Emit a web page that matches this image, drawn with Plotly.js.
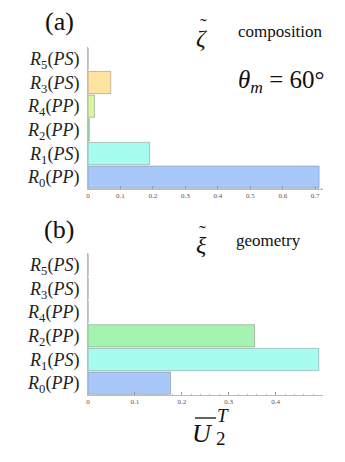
<!DOCTYPE html>
<html><head><meta charset="utf-8">
<script src="https://cdn.plot.ly/plotly-3.0.1.min.js"></script>
<style>html,body{margin:0;padding:0;background:#fff}#plot{width:345px;height:462px}</style>
</head><body><div id="plot"></div>
<script>
// categories bottom -> top
const categories = ["R0(PP)", "R1(PS)", "R2(PP)", "R4(PP)", "R3(PS)", "R5(PS)"];
const categoryLabels = [
  "<i>R</i><sub>0</sub>(<i>PP</i>)",
  "<i>R</i><sub>1</sub>(<i>PS</i>)",
  "<i>R</i><sub>2</sub>(<i>PP</i>)",
  "<i>R</i><sub>4</sub>(<i>PP</i>)",
  "<i>R</i><sub>3</sub>(<i>PS</i>)",
  "<i>R</i><sub>5</sub>(<i>PS</i>)"
];
const compositionValues = [0.712, 0.19, 0.004, 0.02, 0.07, 0.0];
const geometryValues = [0.176, 0.492, 0.355, 0.0, 0.0, 0.0];
const barColors = ["#a8c8fa", "#a6fcef", "#a5f3b1", "#d8f6a2", "#fee3a1", "#e8e8e8"];
const xTicksA = [0, 0.1, 0.2, 0.3, 0.4, 0.5, 0.6, 0.7];
const xTicksB = [0, 0.1, 0.2, 0.3, 0.4];

const L = 88, R = 22, T = 47, B = 67, W = 345, H = 462;
const pw = W - L - R, ph = H - T - B;
const xp = px => (px - L) / pw;
const yp = py => (H - B - py) / ph;

const serif = "'Liberation Serif', 'DejaVu Serif', serif";
const barLine = {color: "rgba(120,120,120,0.45)", width: 1};

const traces = [
  {type: "bar", orientation: "h", x: compositionValues, y: categories,
   xaxis: "x", yaxis: "y", marker: {color: barColors, line: barLine}, hoverinfo: "none"},
  {type: "bar", orientation: "h", x: geometryValues, y: categories,
   xaxis: "x2", yaxis: "y2", marker: {color: barColors, line: barLine}, hoverinfo: "none"}
];

function xax(range, ticks, anchor) {
  return {
    range: range, anchor: anchor, domain: [0, 1],
    tickmode: "array", tickvals: ticks, ticktext: ticks.map(v => v === 0 ? "0" : String(v)),
    ticks: "inside", ticklen: 3, tickcolor: "#999", tickwidth: 1,
    minor: {dtick: 0.02, ticks: "inside", ticklen: 1.5, tickcolor: "#bbb", showgrid: false},
    showline: true, linecolor: "#bbb", linewidth: 1,
    showgrid: false, zeroline: false,
    tickfont: {family: serif, size: 7, color: "#555"}
  };
}
function yax(domain, anchor) {
  return {
    domain: domain, anchor: anchor, type: "category",
    categoryorder: "array", categoryarray: categories,
    tickmode: "array", tickvals: categories, ticktext: categoryLabels,
    ticks: "", showline: true, linecolor: "#bbb", linewidth: 1,
    showgrid: false, zeroline: false, ticklabelstandoff: 4,
    tickfont: {family: serif, size: 18, color: "#222"}
  };
}

const ann = (text, px, py, size, extra) => Object.assign({
  text: text, xref: "paper", yref: "paper", x: xp(px), y: yp(py),
  xanchor: "center", yanchor: "middle", showarrow: false,
  font: {family: serif, size: size, color: "#111"}
}, extra || {});

const layout = {
  width: W, height: H, margin: {l: L, r: R, t: T, b: B},
  paper_bgcolor: "#fff", plot_bgcolor: "#fff", showlegend: false,
  bargap: 0.06,
  xaxis: xax([0, 0.724], xTicksA, "y"),
  yaxis: yax([yp(189), 1], "x"),
  xaxis2: xax([0, 0.501], xTicksB, "y2"),
  yaxis2: yax([0, yp(253)], "x2"),
  annotations: [
    ann("(a)", 59, 21, 26),
    ann("<i>ζ</i>", 202, 38, 24),
    ann("˜", 203, 26, 20),
    ann("composition", 280, 32, 17),
    ann("<i>θ</i><sub><i>m</i></sub> = 60°", 281, 82, 25),
    ann("(b)", 59, 229, 26),
    ann("<i>ξ</i>", 201, 245, 24),
    ann("˜", 202, 233, 20),
    ann("geometry", 268, 240, 17),
    ann("<i>U</i>", 202, 433, 26),
    ann("<i>T</i>", 223, 415, 19),
    ann("2", 221, 438, 19)
  ],
  shapes: [
    {type: "line", xref: "paper", yref: "paper", x0: xp(195), x1: xp(216), y0: yp(418), y1: yp(418),
     line: {color: "#111", width: 1.3}}
  ]
};

Plotly.newPlot("plot", traces, layout, {staticPlot: true, displayModeBar: false});
</script></body></html>
